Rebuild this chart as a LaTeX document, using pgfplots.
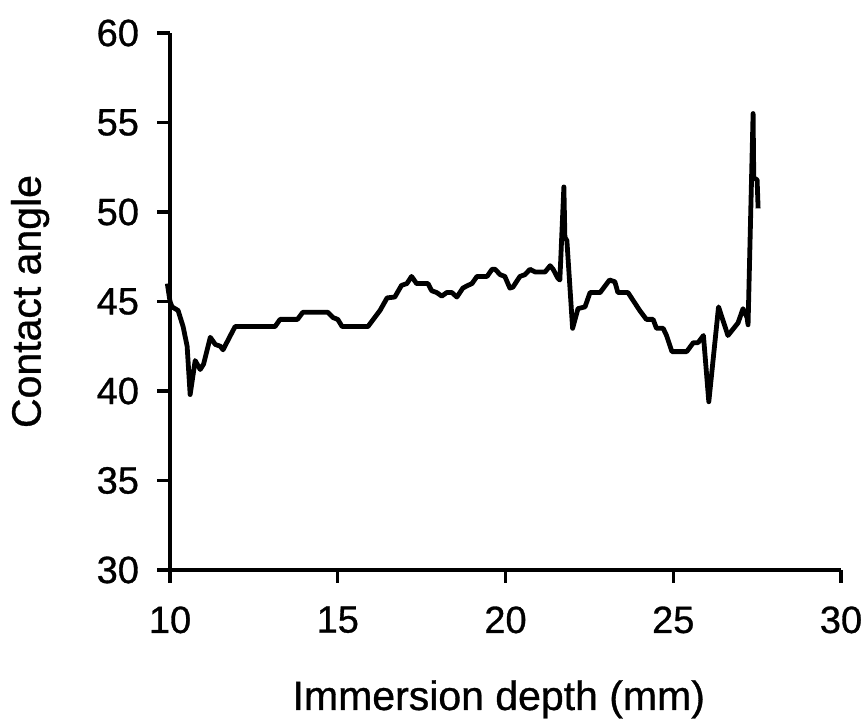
\documentclass[border=0pt]{standalone}
\usepackage{fontspec}
\setmainfont[FakeBold=0.8]{Liberation Sans}
\usepackage{pgfplots}
\pgfplotsset{compat=1.18}

% contact angle measured along the immersion depth
\pgfplotstableread{
x y
9.92 46.0
10.0 45.0
10.06 44.7
10.24 44.5
10.39 43.6
10.51 42.5
10.60 39.8
10.75 41.7
10.90 41.2
11.00 41.5
11.20 43.0
11.35 42.6
11.50 42.5
11.58 42.3
11.80 43.1
11.94 43.6
13.13 43.6
13.28 44.0
13.80 44.0
13.96 44.4
14.70 44.4
14.86 44.1
15.00 44.0
15.13 43.6
15.90 43.6
16.26 44.5
16.47 45.2
16.70 45.25
16.90 45.9
17.06 46.0
17.20 46.4
17.35 46.0
17.69 46.0
17.80 45.6
17.95 45.5
18.10 45.3
18.25 45.5
18.40 45.5
18.55 45.25
18.73 45.75
18.88 45.9
19.00 46.0
19.15 46.4
19.45 46.4
19.60 46.8
19.69 46.8
19.84 46.5
19.98 46.4
20.13 45.75
20.22 45.8
20.43 46.4
20.58 46.5
20.73 46.8
20.88 46.65
21.18 46.65
21.33 47.0
21.42 46.8
21.56 46.3
21.62 46.2
21.74 51.4
21.77 48.6
21.83 48.4
22.00 43.5
22.16 44.6
22.37 44.7
22.52 45.5
22.82 45.5
23.10 46.2
23.26 46.1
23.35 45.5
23.65 45.5
24.00 44.5
24.20 44.0
24.40 44.0
24.50 43.5
24.70 43.5
24.80 43.1
24.96 42.2
25.40 42.2
25.60 42.7
25.74 42.7
25.90 43.1
26.06 39.4
26.35 44.7
26.63 43.1
26.93 43.8
27.08 44.6
27.20 44.1
27.23 43.7
27.38 55.5
27.40 51.9
27.50 51.8
27.53 50.2
}\contactdata

\begin{document}
\begin{tikzpicture}
\begin{axis}[
  scale only axis,
  width=335.5pt, height=268.5pt,
  xmin=10, xmax=30, ymin=30, ymax=60,
  xtick={10,15,20,25,30},
  ytick={30,35,40,45,50,55,60},
  axis lines=left,
  axis line style={line width=1.7pt, -},
  tick align=outside,
  major tick length=6.5pt,
  tick style={line width=1.6pt, black},
  /pgf/number format/assume math mode=true,
  tick label style={font=\fontsize{19}{22}\selectfont},
  xticklabel style={yshift=-8.2pt},
  yticklabel style={xshift=-5.5pt},
  label style={font=\fontsize{20.5}{24}\selectfont},
  xlabel={Immersion depth (mm)},
  ylabel={Contact angle},
  xlabel style={at={(axis description cs:0.49,-0.2607)}, anchor=base},
  ylabel style={at={(axis description cs:-0.2086,0.5)}, anchor=center, rotate=0},
  clip=false,
]
\addplot[black, line width=2.4pt, line join=round] table[x=x, y=y] {\contactdata};
\coordinate (bbA) at (rel axis cs:-0.2534,-0.2812);
\coordinate (bbB) at (rel axis cs:1.0328,1.0615);
\end{axis}
\pgfresetboundingbox
\path[use as bounding box] (bbA) rectangle (bbB);
\end{tikzpicture}
\end{document}
